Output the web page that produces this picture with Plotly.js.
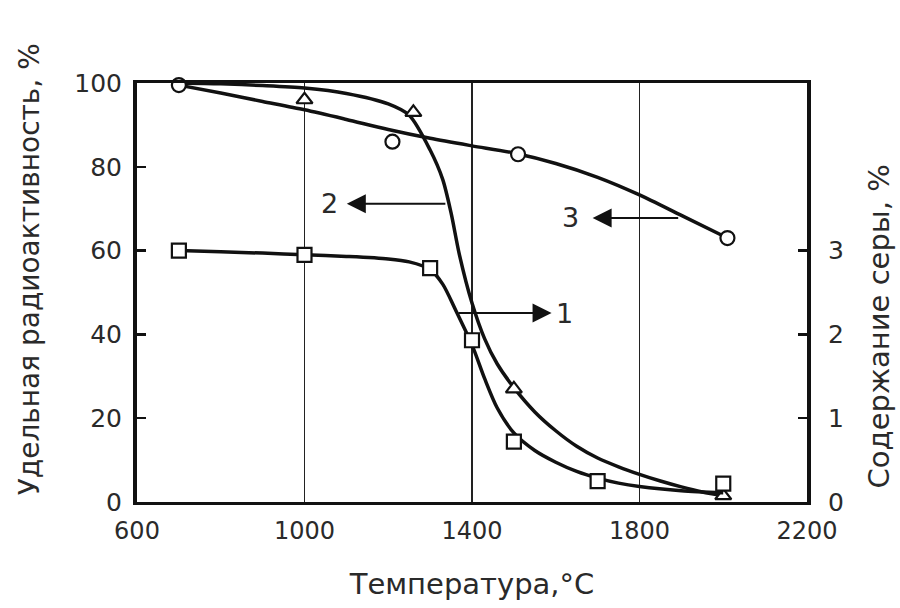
<!DOCTYPE html>
<html>
<head>
<meta charset="utf-8">
<script src="https://cdn.plot.ly/plotly-3.0.1.min.js"></script>
<style>html,body{margin:0;padding:0;background:#fff;}#chart{width:900px;height:608px;}</style>
</head>
<body>
<div id="chart"></div>
<script>
// Series 1: sulfur content, % (right axis) — squares
const s1X = [700, 1000, 1300, 1400, 1500, 1700, 2000];
const s1Y = [3.0, 2.95, 2.79, 1.93, 0.72, 0.25, 0.22];
// Series 1 fitted curve (right-axis units)
const c1X = [700, 800, 900, 1000, 1100, 1200, 1250, 1300, 1330, 1360, 1400, 1430, 1460, 1500, 1550, 1600, 1650, 1700, 1750, 1800, 1900, 2000];
const c1Y = [3.0, 2.985, 2.97, 2.95, 2.93, 2.9, 2.865, 2.775, 2.6, 2.3, 1.875, 1.475, 1.125, 0.825, 0.615, 0.475, 0.365, 0.285, 0.225, 0.185, 0.135, 0.11];

// Series 2: specific radioactivity, % — triangles
const s2X = [720, 1000, 1260, 1500, 2000];
const s2Y = [101, 96, 93, 27, 1.5];
const c2X = [700, 800, 900, 1000, 1100, 1200, 1250, 1300, 1330, 1350, 1370, 1400, 1430, 1460, 1500, 1550, 1600, 1650, 1700, 1750, 1800, 1850, 1900, 1950, 2000];
const c2Y = [100, 99.8, 99.4, 98.8, 97.5, 95, 92.3, 84, 77, 69, 59, 47.5, 39, 33, 27.3, 21.5, 17, 13.3, 10.5, 8.4, 6.6, 5, 3.6, 2.4, 1.5];

// Series 3: specific radioactivity, % — circles
const s3X = [700, 1210, 1510, 2010];
const s3Y = [99.5, 86, 83, 63];
const c3X = [700, 800, 900, 1000, 1100, 1200, 1300, 1400, 1500, 1600, 1700, 1800, 1900, 2010];
const c3Y = [99.5, 97.6, 95.6, 93.6, 91.3, 88.9, 86.8, 85, 83.3, 80.8, 77.5, 73.3, 68.4, 63];

// Axis ticks
const xTicks = [600, 1000, 1400, 1800, 2200];
const yTicks = [0, 20, 40, 60, 80, 100];
const y2Ticks = [0, 1, 2, 3];

// Axis titles
const xTitle = 'Температура,°C';
const yTitle = 'Удельная радиоактивность, %';
const y2Title = 'Содержание серы, %';

// Curve labels with arrows
const arrowLabels = ['2', '3', '1'];
const arrowTipX = [1101, 1688, 1590];
const arrowTailX = [1340, 1896, 1364];
const arrowY = [71.2, 67.8, 45.1];
const labelX = [1060, 1636, 1620];

const FAM = 'DejaVu Sans, Liberation Sans, sans-serif';
const TXT = '#2a2a2a';
const lineStyle = {color: '#111', width: 3.5, shape: 'spline', smoothing: 0.8};
const mk = (sym) => ({symbol: sym, size: 14, color: '#fff', line: {color: '#111', width: 2.2}});

const traces = [
  {x: c1X, y: c1Y, yaxis: 'y2', mode: 'lines', line: lineStyle, hoverinfo: 'skip'},
  {x: c2X, y: c2Y, mode: 'lines', line: lineStyle, hoverinfo: 'skip'},
  {x: c3X, y: c3Y, mode: 'lines', line: lineStyle, hoverinfo: 'skip'},
  {x: s1X, y: s1Y, yaxis: 'y2', mode: 'markers', marker: mk('square'), cliponaxis: false},
  {x: s2X, y: s2Y, mode: 'markers', marker: mk('triangle-up'), cliponaxis: false},
  {x: s3X, y: s3Y, mode: 'markers', marker: mk('circle'), cliponaxis: false}
];

const annotations = [];
for (let i = 0; i < arrowLabels.length; i++) {
  annotations.push({
    x: arrowTipX[i], y: arrowY[i], xref: 'x', yref: 'y',
    ax: arrowTailX[i], ay: arrowY[i], axref: 'x', ayref: 'y',
    showarrow: true, arrowhead: 2, arrowsize: 1.9, arrowwidth: 2, arrowcolor: '#111', text: ''
  });
  annotations.push({
    x: labelX[i], y: arrowY[i], xref: 'x', yref: 'y', showarrow: false,
    text: arrowLabels[i], font: {family: FAM, size: 27, color: TXT}
  });
}
// vertical axis titles placed as in the reference
annotations.push({
  xref: 'paper', yref: 'paper', x: -0.160, y: 0.555, xanchor: 'center', yanchor: 'middle',
  textangle: -90, showarrow: false,
  text: yTitle, font: {family: FAM, size: 28, color: TXT}
});
annotations.push({
  xref: 'paper', yref: 'paper', x: 1.108, y: 0.42, xanchor: 'center', yanchor: 'middle',
  textangle: -90, showarrow: false,
  text: y2Title, font: {family: FAM, size: 29, color: TXT}
});

const layout = {
  width: 900, height: 608,
  margin: {l: 137, r: 93, t: 83, b: 106},
  paper_bgcolor: '#fff', plot_bgcolor: '#fff',
  showlegend: false,
  font: {family: FAM, color: TXT},
  xaxis: {
    range: [600, 2200], tickvals: xTicks, ticks: '',
    showgrid: true, gridcolor: '#222', gridwidth: 1.5,
    showline: true, linecolor: '#111', linewidth: 3, mirror: true,
    zeroline: false, tickfont: {size: 24, color: TXT}, ticklabelstandoff: 5,
    title: {text: xTitle, font: {size: 29, color: TXT}, standoff: 30}
  },
  yaxis: {
    range: [0, 100], tickvals: yTicks, ticks: 'inside', ticklen: 9, tickwidth: 2.5, tickcolor: '#111',
    showgrid: false, zeroline: false,
    showline: true, linecolor: '#111', linewidth: 4,
    tickfont: {size: 25, color: TXT}, ticklabelstandoff: 6
  },
  yaxis2: {
    range: [0, 5], tickvals: y2Ticks, overlaying: 'y', side: 'right',
    ticks: 'inside', ticklen: 9, tickwidth: 2.5, tickcolor: '#111',
    showgrid: false, zeroline: false,
    showline: true, linecolor: '#111', linewidth: 4,
    tickfont: {size: 25, color: TXT}, ticklabelstandoff: 12
  },
  annotations: annotations
};

Plotly.newPlot('chart', traces, layout, {staticPlot: true, displayModeBar: false});
</script>
</body>
</html>
